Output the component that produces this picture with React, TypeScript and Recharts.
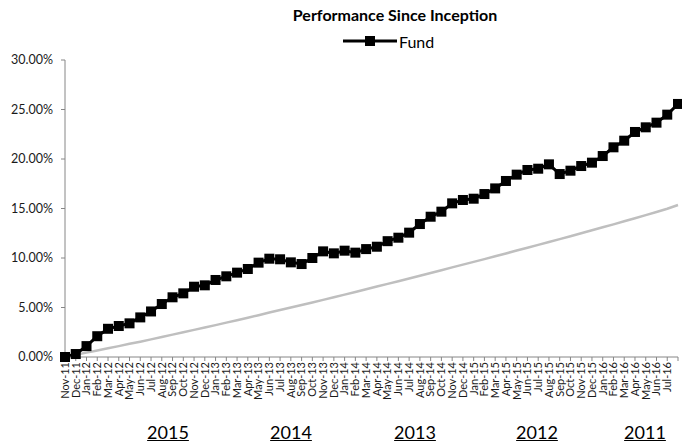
import { Line, LineChart, XAxis, YAxis } from 'recharts';

const months = [
  'Nov-11', 'Dec-11',
  'Jan-12', 'Feb-12', 'Mar-12', 'Apr-12', 'May-12', 'Jun-12', 'Jul-12', 'Aug-12', 'Sep-12', 'Oct-12', 'Nov-12', 'Dec-12',
  'Jan-13', 'Feb-13', 'Mar-13', 'Apr-13', 'May-13', 'Jun-13', 'Jul-13', 'Aug-13', 'Sep-13', 'Oct-13', 'Nov-13', 'Dec-13',
  'Jan-14', 'Feb-14', 'Mar-14', 'Apr-14', 'May-14', 'Jun-14', 'Jul-14', 'Aug-14', 'Sep-14', 'Oct-14', 'Nov-14', 'Dec-14',
  'Jan-15', 'Feb-15', 'Mar-15', 'Apr-15', 'May-15', 'Jun-15', 'Jul-15', 'Aug-15', 'Sep-15', 'Oct-15', 'Nov-15', 'Dec-15',
  'Jan-16', 'Feb-16', 'Mar-16', 'Apr-16', 'May-16', 'Jun-16', 'Jul-16', 'Aug-16',
];

// Fund cumulative return, %
const fund = [
  0.0, 0.3,
  1.1, 2.1, 2.85, 3.13, 3.4, 4.0, 4.6, 5.35, 6.03, 6.43, 7.1, 7.24,
  7.78, 8.15, 8.52, 8.89, 9.53, 9.93, 9.87, 9.56, 9.39, 10.0, 10.67, 10.47,
  10.74, 10.54, 10.9, 11.14, 11.7, 12.05, 12.56, 13.43, 14.17, 14.68, 15.52, 15.86,
  15.99, 16.46, 17.03, 17.78, 18.42, 18.89, 19.02, 19.46, 18.48, 18.82, 19.29, 19.63,
  20.3, 21.18, 21.85, 22.73, 23.2, 23.67, 24.48, 25.56,
];

// grey benchmark line, %
const benchmark = [
  0.0, 0.22,
  0.44, 0.66, 0.88, 1.1, 1.33, 1.55, 1.78, 2.02, 2.26, 2.5, 2.74, 2.98,
  3.22, 3.47, 3.72, 3.97, 4.22, 4.49, 4.75, 5.0, 5.25, 5.51, 5.77, 6.03,
  6.3, 6.57, 6.85, 7.12, 7.39, 7.66, 7.93, 8.21, 8.49, 8.77, 9.05, 9.33,
  9.61, 9.89, 10.17, 10.46, 10.75, 11.04, 11.33, 11.62, 11.91, 12.2,
  12.5, 12.8, 13.1, 13.4, 13.71, 14.02, 14.33, 14.64, 14.97, 15.35,
];

const yTicks = [0, 5, 10, 15, 20, 25, 30];
const years = ['2015', '2014', '2013', '2012', '2011'];
const yearX = [168, 291, 415, 537, 645];

const data = months.map((month, i) => ({ month, fund: fund[i], benchmark: benchmark[i] }));

const FONT = 'Lato, "Open Sans", sans-serif';

function MonthTick(props: any) {
  const { x, y, payload, index } = props;
  if (index === months.length - 1) return <g />;
  return (
    <text
      x={x}
      y={y - 1}
      transform={`rotate(-90, ${x}, ${y - 1})`}
      textAnchor="end"
      dy="0.35em"
      fontSize={11}
      fontFamily={FONT}
      fill="#1a1a1a"
    >
      {payload.value}
    </text>
  );
}

function SquareDot(props: any) {
  const { cx, cy, index } = props;
  return <rect key={`sq-${index}`} x={cx - 5} y={cy - 5} width={10} height={10} fill="#000" />;
}

export default function App() {
  return (
    <div style={{ position: 'absolute', left: 0, top: 0, width: 682, height: 445, background: '#fff', fontFamily: FONT }}>
      <div style={{ position: 'absolute', left: 0, width: 790, top: 5, textAlign: 'center', fontWeight: 700, fontSize: 16, color: '#000' }}>
        Performance Since Inception
      </div>
      <div style={{ position: 'absolute', left: 343, top: 31, display: 'flex', alignItems: 'center', fontSize: 16, color: '#000' }}>
        <svg width={54} height={20}>
          <line x1={0} y1={10} x2={54} y2={10} stroke="#000" strokeWidth={3} />
          <rect x={22} y={5} width={10} height={10} fill="#000" />
        </svg>
        <span style={{ marginLeft: 2 }}>Fund</span>
      </div>
      <div style={{ position: 'absolute', left: 0, top: 0 }}>
        <LineChart width={682} height={445} data={data} margin={{ top: 60, right: 4, bottom: 0, left: 0 }}>
          <XAxis
            dataKey="month"
            interval={0}
            height={88}
            tickSize={4}
            tick={<MonthTick />}
            axisLine={{ stroke: '#868686' }}
            tickLine={{ stroke: '#868686' }}
          />
          <YAxis
            width={65}
            domain={[0, 30]}
            ticks={yTicks}
            tickFormatter={(v: number) => `${v.toFixed(2)}%`}
            tickSize={4}
            tickMargin={8}
            tick={{ fontSize: 12.5, fill: '#1a1a1a', fontFamily: FONT }}
            axisLine={{ stroke: '#868686' }}
            tickLine={{ stroke: '#868686' }}
          />
          <Line
            type="linear"
            dataKey="benchmark"
            stroke="#BFBFBF"
            strokeWidth={2.5}
            dot={false}
            legendType="none"
            isAnimationActive={false}
          />
          <Line
            type="linear"
            dataKey="fund"
            name="Fund"
            stroke="#000"
            strokeWidth={3}
            dot={SquareDot}
            isAnimationActive={false}
          />
        </LineChart>
      </div>
      {years.map((yr, i) => (
        <div
          key={yr}
          style={{
            position: 'absolute',
            left: yearX[i] - 40,
            width: 80,
            top: 421,
            textAlign: 'center',
            fontSize: 18,
            textDecoration: 'underline',
            color: '#000',
          }}
        >
          {yr}
        </div>
      ))}
    </div>
  );
}
